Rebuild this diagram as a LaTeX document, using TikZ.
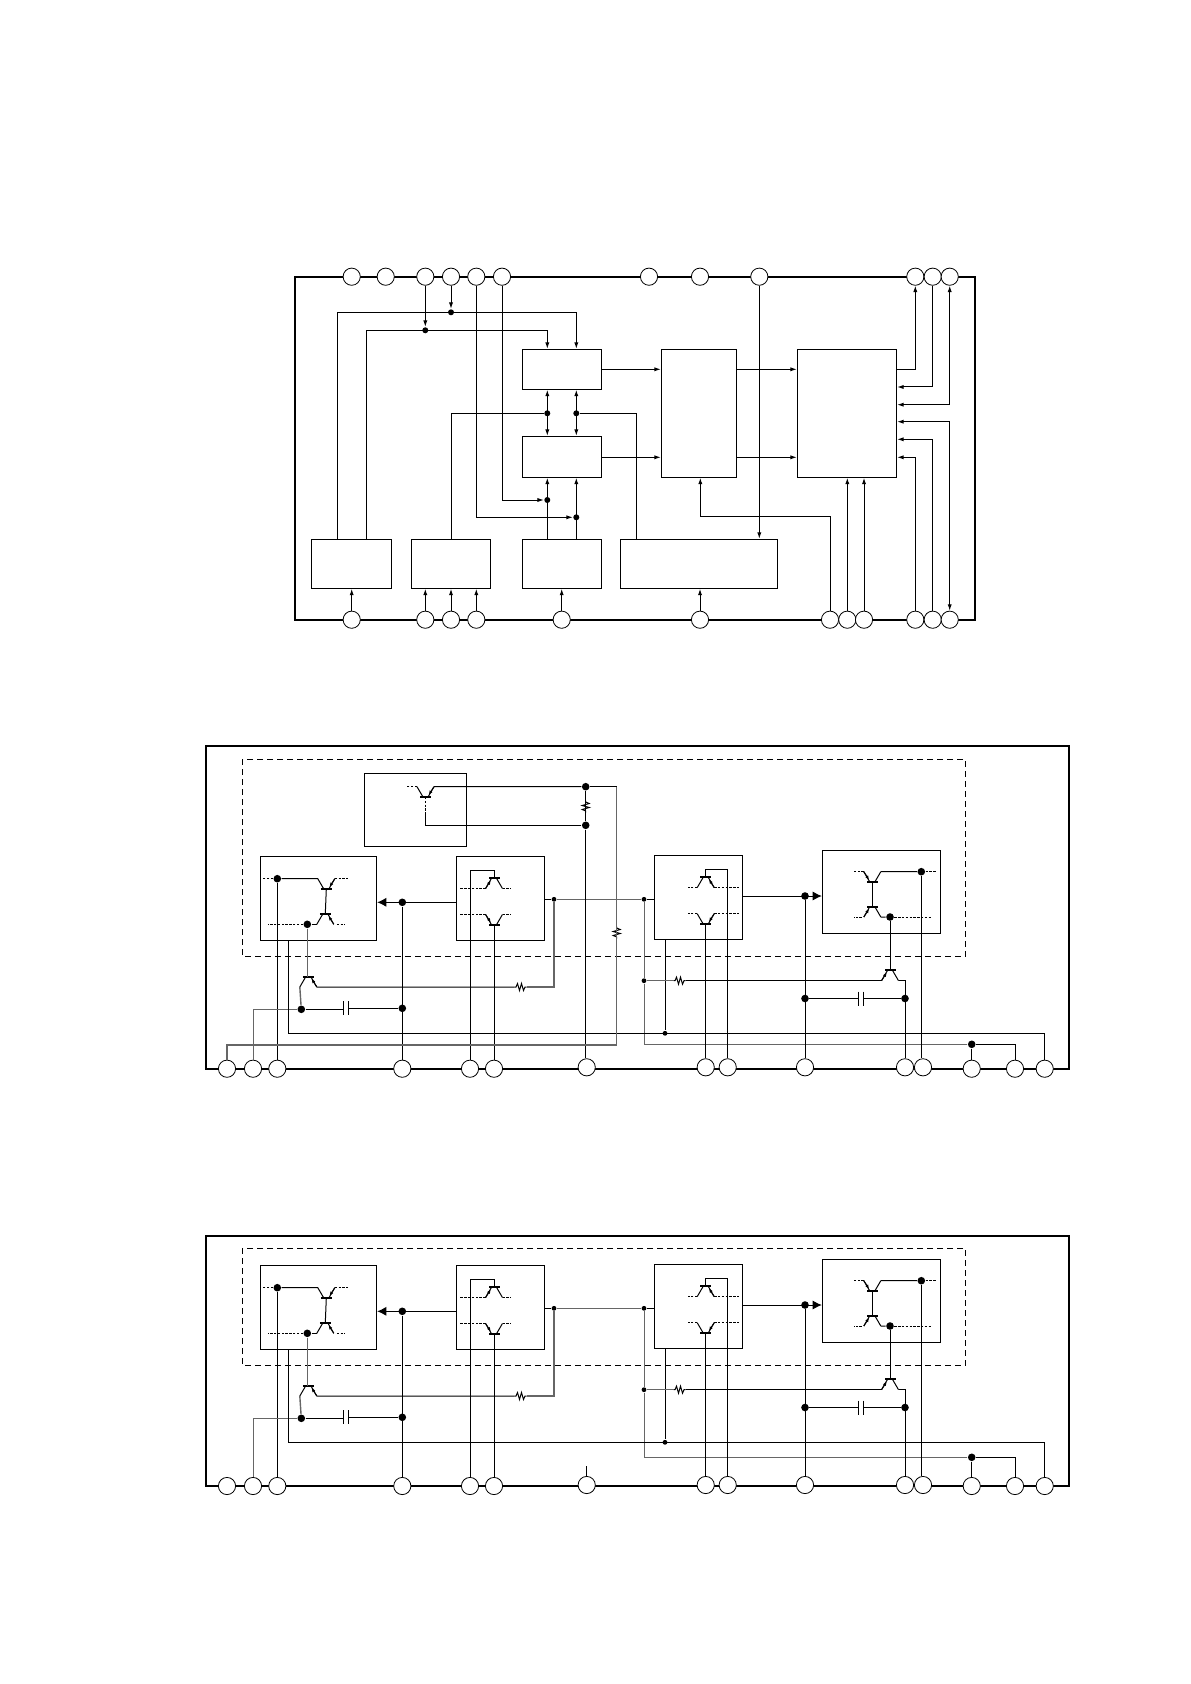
\documentclass[tikz,border=0pt]{standalone}
\usepackage{tikz}
\usetikzlibrary{arrows.meta,fit}

\tikzset{
  pad/.style={circle,draw,fill=white,inner sep=0pt,minimum size=8.6pt,line width=0.4pt},
  blk/.style={draw,inner sep=0pt},
  dot/.style={circle,fill=black,inner sep=0pt,minimum size=3.8pt},
  dotm/.style={dot,minimum size=3pt},
  dots/.style={dot,minimum size=2.4pt},
  sig/.style={-{Latex[length=3.2pt,width=2.1pt]}},
  sigb/.style={{Latex[length=3.2pt,width=2.1pt]}-{Latex[length=3.2pt,width=2.1pt]}},
  bigsig/.style={-{Latex[length=4.6pt,width=4.6pt]}},
  outl/.style={line width=0.85pt},
  dash box/.style={dash pattern=on 3pt off 2pt},
  wk/.style={dash pattern=on 1.2pt off 0.7pt},
  gry/.style={draw=black!60}
}

% transistor: name, position, xscale, yscale (arrow leg is on the +x side)
\newcommand{\trans}[4]{
  \begin{scope}[shift={(#2)},xscale=#3,yscale=#4]
    \coordinate (#1b) at (0,0);
    \coordinate (#1a) at (8.5,-10.3);
    \coordinate (#1p) at (-8.5,-10.3);
    \draw[line width=1pt] (-5.5,0) -- (5.5,0);
    \draw (-2.5,0) -- (#1p);
    \draw (2.5,0) -- (#1a);
    \draw[-{Latex[length=2.2pt,width=1.7pt]}] (#1a) -- (3.2,-2);
  \end{scope}
}
% resistor: name, position, angle
\newcommand{\resi}[3]{
  \begin{scope}[shift={(#2)},rotate=#3]
    \coordinate (#1a) at (-6,0);
    \coordinate (#1b) at (6,0);
    \draw (#1a) -- (-4.5,0) -- (-3,-3.5) -- (-1,3.5) -- (1,-3.5) -- (3,3.5) -- (4.5,0) -- (#1b);
  \end{scope}
}

\begin{document}
\begin{tikzpicture}[x=0.5pt,y=-0.5pt,line width=0.5pt]
\useasboundingbox (0,0) rectangle (1190,1684);

% block diagram
\draw[outl] (295,276.7) rectangle (975.3,619.7);
\foreach \n/\x in {1/351.7,2/385.7,3/425.3,4/451,5/476.3,6/502,7/649,8/700,9/759.3,10/915.3,11/932.7,12/949.7}
  \node[pad] (t\n) at (\x,276.7) {};
\foreach \n/\x in {1/351.7,2/425.3,3/451,4/476.3,5/561.7,6/700,7/830,8/847.3,9/864,10/915.3,11/932.7,12/949.7}
  \node[pad] (u\n) at (\x,619.7) {};

\node[blk,fit={(522.3,349.3)(601.7,389.3)}] (boxa) {};
\node[blk,fit={(522.3,436.3)(601.7,477.3)}] (boxb) {};
\node[blk,fit={(311.3,539.3)(391.7,588.3)}] (boxc) {};
\node[blk,fit={(411.3,539.3)(490.7,588.3)}] (boxd) {};
\node[blk,fit={(522.3,539.3)(601.7,588.3)}] (boxe) {};
\node[blk,fit={(620.3,539.3)(777.3,588.3)}] (boxf) {};
\node[blk,fit={(661.3,349.3)(736.7,477.3)}] (boxg) {};
\node[blk,fit={(797.3,349.3)(896.7,477.3)}] (boxh) {};

\node[dotm] (ja) at (451,312.3) {};
\node[dotm] (jb) at (425.3,330.3) {};
\node[dotm] (jc) at (547.3,413.3) {};
\node[dotm] (jd) at (576.3,413.3) {};
\node[dotm] (je) at (547.3,500) {};
\node[dotm] (jf) at (576.3,517.3) {};
\coordinate (wa) at (337.7,312.3);
\coordinate (wb) at (366.7,330.3);
\coordinate (wf) at (636.7,413.3);
\coordinate (wg) at (700.3,516.3);
\coordinate (rowa) at (0,369.3);
\coordinate (rowb) at (0,457.3);
\coordinate (rowc) at (0,387);
\coordinate (rowd) at (0,404.7);
\coordinate (rowe) at (0,421.7);
\coordinate (rowf) at (0,439.3);

\draw[sig] (wa |- boxc.north) |- (jd |- ja) -- (jd |- boxa.north);
\draw[sig] (wb |- boxc.north) |- (jc |- jb) -- (jc |- boxa.north);
\draw[sig] (t3) -- (jb);
\draw[sig] (t4) -- (ja);
\draw[sig] (t5) |- (jf);
\draw[sig] (t6) |- (je);
\draw[sig] (je |- boxe.north) -- (je |- boxb.south);
\draw[sig] (jf |- boxe.north) -- (jf |- boxb.south);
\draw[sigb] (jc |- boxa.south) -- (jc |- boxb.north);
\draw[sigb] (jd |- boxa.south) -- (jd |- boxb.north);
\draw (boxd.north) |- (jc);
\draw (wf |- boxf.north) -- (wf) -- (jd);
\draw[sig] (boxa.east |- rowa) -- (boxg.west |- rowa);
\draw[sig] (boxb.east |- rowb) -- (boxg.west |- rowb);
\draw[sig] (boxg.east |- rowa) -- (boxh.west |- rowa);
\draw[sig] (boxg.east |- rowb) -- (boxh.west |- rowb);
\draw[sig] (t9) -- (t9 |- boxf.north);
\draw[sig] (boxh.east |- rowa) -| (t10);
\draw[sig] (t11) |- (boxh.east |- rowc);
\draw[sigb] (t12) |- (boxh.east |- rowd);
\draw[sigb] (u12) |- (boxh.east |- rowe);
\draw[sig] (u11) |- (boxh.east |- rowf);
\draw[sig] (u10) |- (boxh.east |- rowb);
\draw[sig] (u7) |- (wg) -- (wg |- boxg.south);
\foreach \a/\b in {u1/boxc,u2/boxd,u3/boxd,u4/boxd,u5/boxe,u6/boxf,u8/boxh,u9/boxh}
  \draw[sig] (\a) -- (\a |- \b.south);

% the two stages
\draw[outl] (206,746.3) rectangle (1069,1068.7);
\draw[outl] (206,1235.7) rectangle (1069,1486);
\draw[dash box] (242.3,759.3) rectangle (965.7,956.3);
\draw[dash box] (242.3,1248.3) rectangle (965.7,1365.3);

\foreach \pre/\off/\pina/\pinb/\rety in {b/0/1068.7/1067.3/1044.3,c/409/1077/1076/1048.3} {
\begin{scope}[shift={(0,\off)}]
  \foreach \n/\x in {1/227,2/253,3/277.3,4/402.3,5/470,6/494}
    \node[pad] (\pre p\n) at (\x,\pina) {};
  \foreach \n/\x in {7/586.7,8/705.7,9/727.7,10/805,11/905,12/923}
    \node[pad] (\pre p\n) at (\x,\pinb) {};
  \foreach \n/\x in {13/971.7,14/1015,15/1044.7}
    \node[pad] (\pre p\n) at (\x,\pina) {};

  \node[blk,fit={(260.3,856.3)(376.7,940.3)}] (\pre boxl) {};
  \node[blk,fit={(456.3,856.3)(544.3,940.3)}] (\pre boxm) {};
  \node[blk,fit={(654.3,855.8)(742.7,939.3)}] (\pre boxr) {};
  \node[blk,fit={(822.3,850.3)(940.7,933.8)}] (\pre boxs) {};

  % left output pair
  \trans{\pre qa}{326.3,889}{1}{1}
  \trans{\pre qb}{325.3,914}{1}{-1}
  \trans{\pre qc}{308.3,976.7}{1}{-1}
  \node[dot] (\pre ja) at (277.3,878.7) {};
  \node[dot] (\pre jb) at (307.3,924.3) {};
  \node[dot] (\pre jc) at (301.3,1009.3) {};
  \node[dot] (\pre jd) at (402.3,1008.3) {};
  \node[dot] (\pre je) at (402.3,902.3) {};
  \draw (\pre qap) -- (\pre ja);
  \draw[wk] (\pre ja) -- ++(-15,0);
  \draw[wk] (\pre qaa) -- ++(13,0);
  \draw (\pre qbp) -- (\pre jb);
  \draw[wk] (\pre jb) -- ++(-39,0);
  \draw[wk] (\pre qba) ++(3,0) -- ++(8,0);
  \draw (\pre qab) -- (\pre qbb);
  \draw (\pre ja) -- (\pre p3);
  \draw[gry,line width=0.7pt] (\pre jb) -- (\pre jb |- \pre qcb);
  \draw[gry,line width=0.7pt] (\pre qcp) -- (\pre jc);
  \draw[gry] (\pre jc) -| (\pre p2);
  \draw (\pre p4) -- (\pre je);
  \draw[bigsig] (\pre boxm.west |- \pre je) -- (\pre boxl.east |- \pre je);

  % capacitor, left
  \coordinate (\pre ca) at (343,1008.3);
  \coordinate (\pre cb) at (348.3,1008.3);
  \draw (\pre ca) +(0,-7) -- +(0,7);
  \draw (\pre cb) +(0,-7) -- +(0,7);
  \draw (\pre jc) -- (\pre ca |- \pre jc);
  \draw (\pre cb) -- (\pre jd);

  % middle left stage
  \trans{\pre qd}{494,878.3}{-1}{-1}
  \trans{\pre qe}{494,924.7}{-1}{1}
  \draw[wk] (\pre qda) -- ++(-26,0);
  \draw[wk] (\pre qdp) -- ++(8,0);
  \draw[wk] (\pre qea) -- ++(-26,0);
  \draw[wk] (\pre qep) -- ++(8,0);
  \draw (\pre qdb) -- ++(0,-8) -| (\pre p5);
  \draw (\pre qeb) -- (\pre p6);

  % common input
  \node[dots] (\pre jf) at (554,899.3) {};
  \node[dots] (\pre jg) at (644,899.3) {};
  \node[dots] (\pre jh) at (644,980.7) {};
  \node[dots] (\pre jk) at (665,1033.3) {};
  \node[dot] (\pre ji) at (971.7,\rety) {};
  \coordinate (\pre wl) at (288.3,1033.3);
  \draw (\pre boxm.east |- \pre jf) -- (\pre jf);
  \draw[gry] (\pre jf) -- (\pre jg);
  \draw (\pre jg) -- (\pre boxr.west |- \pre jg);
  \draw[gry] (\pre jg) -- (\pre jh);
  \draw[gry] (\pre jh) |- (\pre ji);
  \draw (\pre ji) -- (\pre p13);
  \draw (\pre ji) -| (\pre p14);
  \draw (\pre wl |- \pre boxl.south) -- (\pre wl) -| (\pre p15);
  \draw (\pre boxr.south -| \pre jk) -- (\pre jk);
  \resi{\pre ra}{520.5,987}{0}
  \draw (\pre qca) -- (\pre raa);
  \draw[gry,line width=0.7pt] (\pre rab) -| (\pre jf);

  % middle right stage
  \trans{\pre qi}{705.7,877.3}{1}{-1}
  \trans{\pre qj}{705.7,924}{1}{1}
  \draw[wk] (\pre qip) -- ++(-9,0);
  \draw[wk] (\pre qia) -- ++(25,0);
  \draw[wk] (\pre qjp) -- ++(-9,0);
  \draw[wk] (\pre qja) -- ++(25,0);
  \draw (\pre qib) -- ++(0,-8) -| (\pre p9);
  \draw (\pre qjb) -- (\pre p8);

  % right output pair
  \trans{\pre qf}{890,970.4}{-1}{-1}
  \trans{\pre qg}{872.3,882}{-1}{1}
  \trans{\pre qh}{872.3,906.7}{-1}{-1}
  \node[dot] (\pre jm) at (905,998.5) {};
  \node[dot] (\pre jn) at (805,998.5) {};
  \node[dot] (\pre jo) at (805,896) {};
  \node[dot] (\pre jp) at (921.3,871.7) {};
  \node[dot] (\pre jq) at (890,917) {};
  \draw (\pre p10) -- (\pre jo);
  \draw[bigsig] (\pre boxr.east |- \pre jo) -- (\pre boxs.west |- \pre jo);
  \resi{\pre rb}{679.5,980.7}{0}
  \draw[gry] (\pre jh) -- (\pre rba);
  \draw (\pre rbb) -- (\pre qfa);
  \draw (\pre qfp) -| (\pre p11);
  \draw (\pre qfb) -- (\pre jq);
  \draw (\pre qgb) -- (\pre qhb);
  \draw[wk] (\pre qga) -- ++(-11,0);
  \draw (\pre qgp) -- (\pre jp);
  \draw[wk] (\pre jp) -- ++(15,0);
  \draw[wk] (\pre qha) ++(-2,0) -- ++(-8,0);
  \draw (\pre qhp) -- (\pre jq);
  \draw[wk] (\pre jq) -- ++(41,0);
  \draw (\pre jp) -- (\pre jp |- \pre p12.north);

  % capacitor, right
  \coordinate (\pre cc) at (858.3,998.5);
  \coordinate (\pre cd) at (863.7,998.5);
  \draw (\pre cc) +(0,-7) -- +(0,7);
  \draw (\pre cd) +(0,-7) -- +(0,7);
  \draw (\pre jn) -- (\pre cc);
  \draw (\pre cd) -- (\pre jm);
\end{scope}
}

% supply block, first stage only
\node[blk,fit={(364.3,773.3)(466.7,846.3)}] (boxt) {};
\trans{qt}{425.5,797}{1}{1}
\node[dot] (jt) at (585.7,786.7) {};
\node[dot] (ju) at (585.7,825.3) {};
\coordinate (wu) at (425.5,815);
\coordinate (wt) at (616.7,786.7);
\coordinate (wh) at (616.7,1045);
\draw[wk] (qtp) -- ++(-11,0);
\draw[wk] (qtb) -- (wu);
\draw (wu) |- (ju);
\draw (qta) -- (jt);
\draw (jt) -- (wt);
\resi{rc}{585.7,806.5}{90}
\resi{rd}{616.7,932.5}{90}
\draw (jt) -- (rca);
\draw (rcb) -- (ju);
\draw (ju) -- (ju |- bp7.north);
\draw[gry,line width=0.7pt] (wt) -- (rda);
\draw[gry,line width=0.7pt] (rdb) -- (wh) -| (bp1);
\draw (cp7.north) -- ++(0,-10);
\end{tikzpicture}
\end{document}
